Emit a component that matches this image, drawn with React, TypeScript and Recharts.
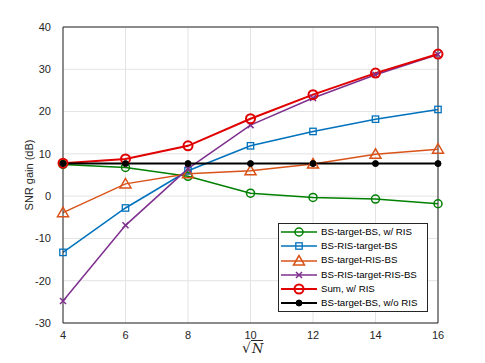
import {
  CartesianGrid,
  Line,
  LineChart,
  ReferenceLine,
  XAxis,
  YAxis,
} from "recharts";

const sqrtN = [4, 6, 8, 10, 12, 14, 16];
const xTicks = [4, 6, 8, 10, 12, 14, 16];
const yTicks = [-30, -20, -10, 0, 10, 20, 30, 40];

const directWithRis = [7.5, 6.8, 4.7, 0.7, -0.3, -0.7, -1.8];
const risTargetBs = [-13.3, -2.8, 6.0, 11.9, 15.3, 18.2, 20.5];
const targetRisBs = [-3.9, 2.9, 5.3, 6.0, 7.6, 9.9, 11.1];
const risTargetRis = [-24.8, -6.9, 6.5, 16.8, 23.2, 28.7, 33.5];
const sumWithRis = [7.8, 8.8, 11.9, 18.3, 24.0, 29.1, 33.6];
const directNoRis = [7.7, 7.7, 7.7, 7.7, 7.7, 7.7, 7.7];

type Marker = "circle" | "square" | "triangle" | "cross" | "bigCircle" | "dot";

type SeriesDef = {
  key: string;
  name: string;
  values: number[];
  color: string;
  marker: Marker;
  width: number;
};

const series: SeriesDef[] = [
  { key: "g", name: "BS-target-BS, w/ RIS", values: directWithRis, color: "#008000", marker: "circle", width: 1.5 },
  { key: "b", name: "BS-RIS-target-BS", values: risTargetBs, color: "#0072BD", marker: "square", width: 1.5 },
  { key: "o", name: "BS-target-RIS-BS", values: targetRisBs, color: "#D95319", marker: "triangle", width: 1.5 },
  { key: "p", name: "BS-RIS-target-RIS-BS", values: risTargetRis, color: "#7E2F8E", marker: "cross", width: 1.5 },
  { key: "r", name: "Sum, w/ RIS", values: sumWithRis, color: "#E00000", marker: "bigCircle", width: 2 },
  { key: "k", name: "BS-target-BS, w/o RIS", values: directNoRis, color: "#000000", marker: "dot", width: 2 },
];

const data = sqrtN.map((x, i) => {
  const row: Record<string, number> = { x };
  series.forEach((s) => {
    row[s.key] = s.values[i];
  });
  return row;
});

function MarkerShape({ cx, cy, color, marker }: { cx: number; cy: number; color: string; marker: Marker }) {
  if (cx == null || cy == null) return null;
  switch (marker) {
    case "circle":
      return <circle cx={cx} cy={cy} r={4} fill="none" stroke={color} strokeWidth={1.5} />;
    case "bigCircle":
      return <circle cx={cx} cy={cy} r={4.5} fill="none" stroke={color} strokeWidth={2} />;
    case "square":
      return <rect x={cx - 3.2} y={cy - 3.2} width={6.4} height={6.4} fill="none" stroke={color} strokeWidth={1.3} />;
    case "triangle":
      return (
        <polygon
          points={`${cx},${cy - 5.5} ${cx - 5.5},${cy + 4} ${cx + 5.5},${cy + 4}`}
          fill="none"
          stroke={color}
          strokeWidth={1.5}
        />
      );
    case "cross":
      return (
        <path
          d={`M${cx - 3},${cy - 3}L${cx + 3},${cy + 3}M${cx - 3},${cy + 3}L${cx + 3},${cy - 3}`}
          stroke={color}
          strokeWidth={1.5}
        />
      );
    case "dot":
      return <circle cx={cx} cy={cy} r={3} fill={color} stroke={color} />;
  }
  return null;
}

function LegendBox() {
  return (
    <div
      style={{
        position: "absolute",
        left: 278,
        top: 223,
        width: 147,
        height: 86,
        border: "1px solid #262626",
        background: "#fff",
        padding: "1px 0 0 1px",
        fontFamily: "'Liberation Sans', Arial, sans-serif",
        fontSize: 9.7,
        color: "#000",
        lineHeight: "14.2px",
      }}
    >
      {series.map((s) => (
        <div key={s.key} style={{ display: "flex", alignItems: "center", whiteSpace: "nowrap" }}>
          <svg width={37} height={14} style={{ marginRight: 4 }}>
            <line x1={1} y1={7} x2={37} y2={7} stroke={s.color} strokeWidth={s.width} />
            <MarkerShape cx={19} cy={7} color={s.color} marker={s.marker} />
          </svg>
          <span>{s.name}</span>
        </div>
      ))}
    </div>
  );
}

const tickStyle = { fill: "#262626", fontSize: 11, fontFamily: "'Liberation Sans', Arial, sans-serif" };

export default function App() {
  return (
    <div style={{ position: "absolute", left: 0, top: 0, width: 485, height: 363, background: "#fff" }}>
      <LineChart width={485} height={363} data={data} margin={{ top: 27, right: 47, bottom: 12, left: 0 }}>
        <CartesianGrid stroke="#e3e3e3" strokeWidth={1} />
        <XAxis
          dataKey="x"
          type="number"
          domain={[4, 16]}
          ticks={xTicks}
          tick={tickStyle}
          tickLine={false}
          axisLine={{ stroke: "#262626" }}
          tickMargin={2}
          height={28}
        />
        <YAxis
          type="number"
          domain={[-30, 40]}
          ticks={yTicks}
          tick={tickStyle}
          tickLine={false}
          axisLine={{ stroke: "#262626" }}
          tickMargin={6}
          width={63}
          label={{
            value: "SNR gain (dB)",
            angle: -90,
            position: "insideLeft",
            offset: 29,
            style: { textAnchor: "middle", fill: "#262626", fontSize: 11, fontFamily: "'Liberation Sans', Arial, sans-serif" },
          }}
        />
        <ReferenceLine y={40} stroke="#262626" />
        <ReferenceLine x={16} stroke="#262626" />
        {series.map((s) => (
          <Line
            key={s.key}
            dataKey={s.key}
            name={s.name}
            stroke={s.color}
            strokeWidth={s.width}
            isAnimationActive={false}
            dot={(props: any) => (
              <MarkerShape key={`${s.key}-${props.index}`} cx={props.cx} cy={props.cy} color={s.color} marker={s.marker} />
            )}
            activeDot={false}
          />
        ))}
      </LineChart>
      <LegendBox />
      <div
        style={{
          position: "absolute",
          left: 242,
          top: 340,
          fontFamily: "'DejaVu Serif', 'Liberation Serif', serif",
          fontSize: 13,
          color: "#262626",
        }}
      >
        <span style={{ fontSize: 14 }}>√</span>
        <span style={{ fontStyle: "italic", borderTop: "1px solid #262626", paddingLeft: 1 }}>N</span>
      </div>
    </div>
  );
}
